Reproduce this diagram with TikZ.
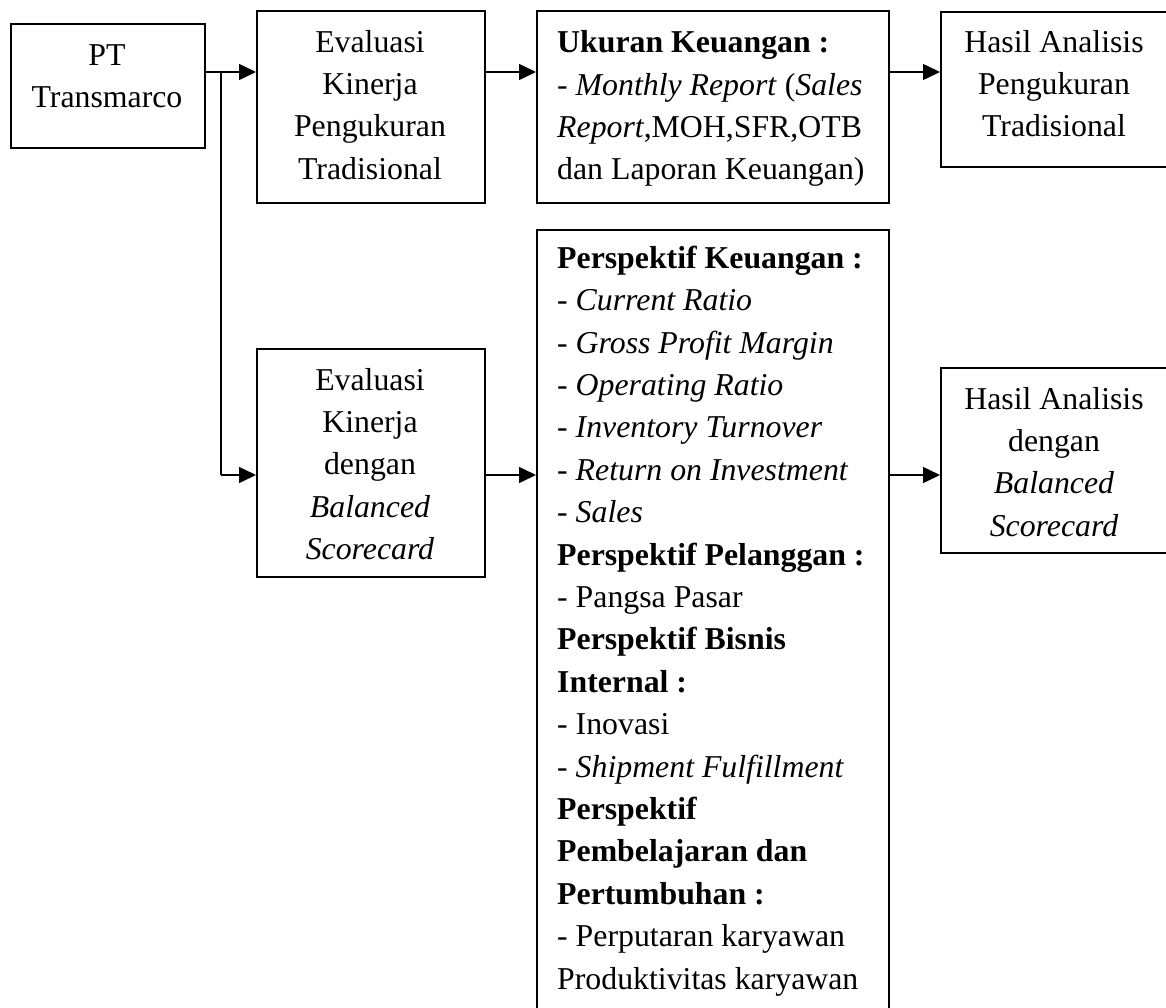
\documentclass[tikz,border=0pt]{standalone}
\usepackage{fontspec}
\setmainfont{Liberation Serif}
\usetikzlibrary{arrows.meta}
\begin{document}
\begin{tikzpicture}[x=1pt,y=-1pt,
  box/.style={draw,line width=1.5pt,rectangle,inner sep=0pt,anchor=north west},
  txt/.style={inner sep=0pt,font=\fontsize{31.8}{42.4}\selectfont},
  ctxt/.style={txt,align=center,anchor=north},
  ltxt/.style={txt,align=left,anchor=north west},
  arr/.style={line width=1.5pt,-{Triangle[length=17pt,width=16pt]}},
  ln/.style={line width=1.5pt}]
\useasboundingbox (0,0) rectangle (1166,1007);
\clip (0,0) rectangle (1166,1007);
% boxes
\node[box,minimum width=194pt,minimum height=124pt] (pt) at (10,23) {};
\node[box,minimum width=228pt,minimum height=192pt] (e1) at (256,10) {};
\node[box,minimum width=352pt,minimum height=192pt] (uk) at (536,10) {};
\node[box,minimum width=230pt,minimum height=155pt] (h1) at (940,11) {};
\node[box,minimum width=228pt,minimum height=228pt] (e2) at (256,348) {};
\node[box,minimum width=352pt,minimum height=820pt] (big) at (536,229) {};
\node[box,minimum width=230pt,minimum height=185pt] (h2) at (940,367) {};
% texts
\node[ctxt] (tpt) at (107,35.3) {\strut PT\\Transmarco};
\node[ctxt] (te1) at (370,22.3) {\strut Evaluasi\\Kinerja\\Pengukuran\\Tradisional};
\node[ltxt] (tuk) at (557,22.8) {\strut\textbf{Ukuran Keuangan :}\\- \textit{Monthly Report} (\textit{Sales}\\\textit{Report},MOH,SFR,OTB\\dan Laporan Keuangan)};
\node[ctxt] (th1) at (1054,22.3) {\strut Hasil Analisis\\Pengukuran\\Tradisional};
\node[ctxt] (te2) at (370,360.3) {\strut Evaluasi\\Kinerja\\dengan\\\textit{Balanced}\\\textit{Scorecard}};
\node[ltxt] (tbig) at (557,238.5) {\strut\textbf{Perspektif Keuangan :}\\
- \textit{Current Ratio}\\
- \textit{Gross Profit Margin}\\
- \textit{Operating Ratio}\\
- \textit{Inventory Turnover}\\
- \textit{Return on Investment}\\
- \textit{Sales}\\
\textbf{Perspektif Pelanggan :}\\
- Pangsa Pasar\\
\textbf{Perspektif Bisnis}\\
\textbf{Internal :}\\
- Inovasi\\
- \textit{Shipment Fulfillment}\\
\textbf{Perspektif}\\
\textbf{Pembelajaran dan}\\
\textbf{Pertumbuhan :}\\
- Perputaran karyawan\\
Produktivitas karyawan};
\node[ctxt] (th2) at (1054,379.3) {\strut Hasil Analisis\\dengan\\\textit{Balanced}\\\textit{Scorecard}};
% connectors
\coordinate (j1) at (221,72);
\coordinate (j2) at (221,475);
\draw[arr] (pt.east |- j1) -- (e1.west |- j1);
\draw[ln] (j1) -- (j2);
\draw[arr] (j2) -- (e2.west |- j2);
\draw[arr] (e1.east |- j1) -- (uk.west |- j1);
\draw[arr] (uk.east |- j1) -- (h1.west |- j1);
\draw[arr] (e2.east |- j2) -- (big.west |- j2);
\draw[arr] (big.east |- j2) -- (h2.west |- j2);
\end{tikzpicture}
\end{document}
